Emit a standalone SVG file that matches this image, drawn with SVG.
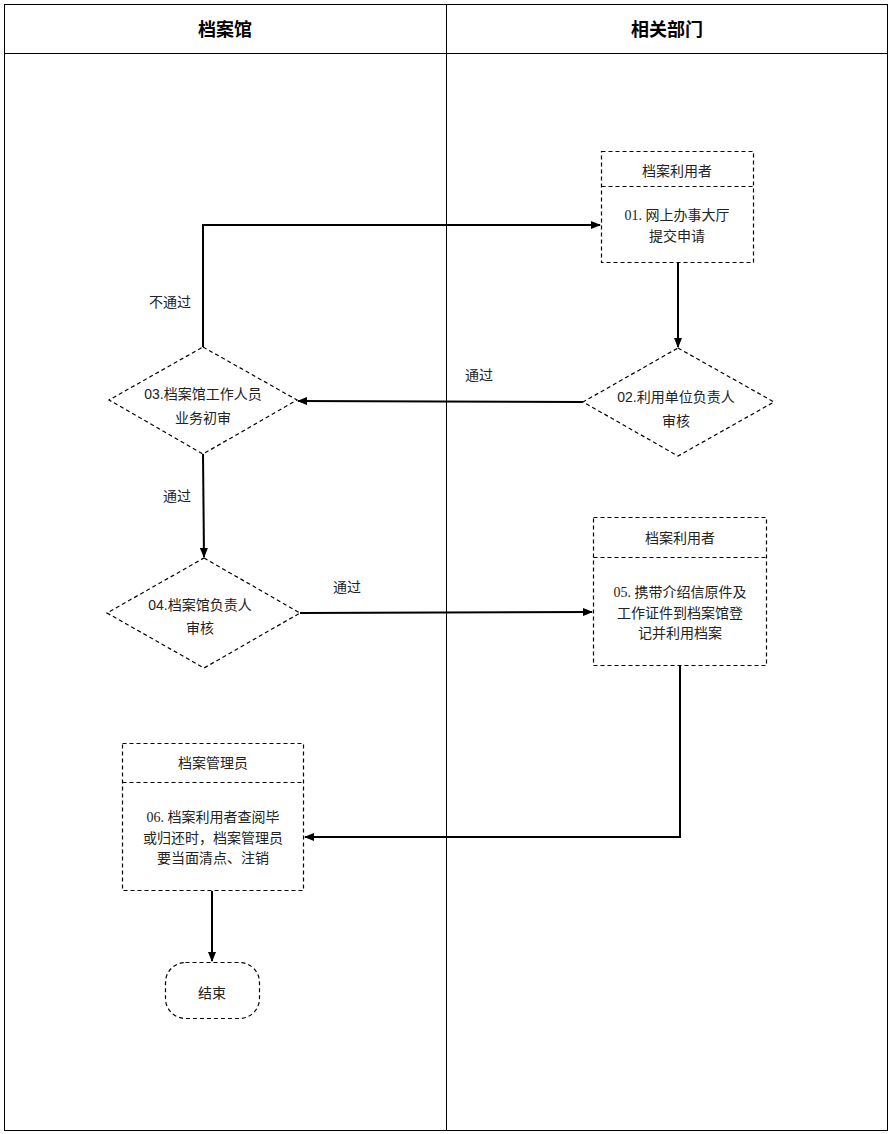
<svg xmlns="http://www.w3.org/2000/svg" width="892" height="1134" viewBox="0 0 892 1134">
<style>
.frame{fill:none;stroke:#000;stroke-width:1}
.node{fill:#fff;stroke:#000;stroke-width:1.2;stroke-dasharray:4,3}
.sep{stroke:#000;stroke-width:1.2;stroke-dasharray:4,3}
.conn{fill:none;stroke:#000;stroke-width:2}
.hd{font-family:"Liberation Sans","Noto Sans CJK SC",sans-serif;font-weight:bold;font-size:18px;text-anchor:middle}
.t{font-family:"Liberation Serif","Noto Sans CJK SC",serif;font-size:14px;text-anchor:middle;fill:#222}
.d{font-family:"Liberation Sans","Noto Sans CJK SC",sans-serif;font-size:14px;text-anchor:middle;fill:#222}
</style>
<defs>
<marker id="arr" markerWidth="10" markerHeight="8" refX="9" refY="4" orient="auto" markerUnits="userSpaceOnUse">
<path d="M0,0 L10,4 L0,8 Z" fill="#000"/>
</marker>
</defs>
<rect width="892" height="1134" fill="#fff"/>
<g id="lanes">
<rect class="frame" x="4.5" y="4.5" width="883" height="1126"/>
<line class="frame" x1="4.5" y1="53.5" x2="887.5" y2="53.5"/>
<line class="frame" x1="446.5" y1="4.5" x2="446.5" y2="1130.5"/>
<text class="hd" x="225" y="36">档案馆</text>
<text class="hd" x="667" y="36">相关部门</text>
</g>
<g id="connectors">
<line class="conn" x1="678" y1="263" x2="678" y2="347" marker-end="url(#arr)"/>
<line class="conn" x1="583" y1="402" x2="298" y2="401" marker-end="url(#arr)"/>
<polyline class="conn" points="203,347 203,225 600,225" marker-end="url(#arr)"/>
<line class="conn" x1="203" y1="454" x2="204" y2="557" marker-end="url(#arr)"/>
<line class="conn" x1="300" y1="613" x2="592" y2="612" marker-end="url(#arr)"/>
<polyline class="conn" points="680,666 680,837 305,837" marker-end="url(#arr)"/>
<line class="conn" x1="212" y1="891" x2="212" y2="961" marker-end="url(#arr)"/>
<text class="d" x="479" y="380">通过</text>
<text class="d" x="170" y="307">不通过</text>
<text class="d" x="177" y="501">通过</text>
<text class="d" x="347" y="592">通过</text>
</g>
<g id="n01">
<rect class="node" x="601.5" y="151.5" width="152" height="111"/>
<line class="sep" x1="601.5" y1="186.5" x2="753.5" y2="186.5"/>
<text class="t" x="677" y="176">档案利用者</text>
<text class="t" x="677" y="220">01. 网上办事大厅</text>
<text class="t" x="677" y="241">提交申请</text>
</g>
<g id="n02">
<polygon class="node" points="678,348 774,402 678,456 583,402"/>
<text class="d" x="676" y="402">02.利用单位负责人</text>
<text class="d" x="676" y="426">审核</text>
</g>
<g id="n03">
<polygon class="node" points="203,347 297,400 203,454 109,400"/>
<text class="d" x="203" y="399">03.档案馆工作人员</text>
<text class="d" x="203" y="423">业务初审</text>
</g>
<g id="n04">
<polygon class="node" points="204,558 300,613 204,668 107,613"/>
<text class="d" x="200" y="610">04.档案馆负责人</text>
<text class="d" x="200" y="633">审核</text>
</g>
<g id="n05">
<rect class="node" x="593.5" y="517.5" width="173" height="148"/>
<line class="sep" x1="593.5" y1="557.5" x2="766.5" y2="557.5"/>
<text class="t" x="680" y="543">档案利用者</text>
<text class="t" x="680" y="597">05. 携带介绍信原件及</text>
<text class="t" x="680" y="618">工作证件到档案馆登</text>
<text class="t" x="680" y="638">记并利用档案</text>
</g>
<g id="n06">
<rect class="node" x="122.5" y="743.5" width="181" height="147"/>
<line class="sep" x1="122.5" y1="782.5" x2="303.5" y2="782.5"/>
<text class="t" x="213" y="768">档案管理员</text>
<text class="t" x="213" y="822">06. 档案利用者查阅毕</text>
<text class="t" x="213" y="843">或归还时，档案管理员</text>
<text class="t" x="213" y="863">要当面清点、注销</text>
</g>
<g id="end">
<rect class="node" x="165.5" y="962.5" width="94" height="56" rx="20"/>
<text class="t" x="212" y="998">结束</text>
</g>
</svg>
